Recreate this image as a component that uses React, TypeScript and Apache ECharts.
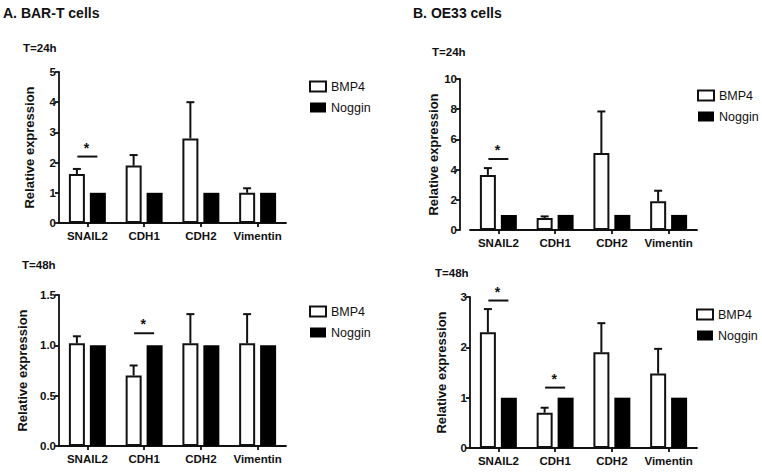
import React, { useEffect, useRef } from "react";
import * as echarts from "echarts";

const categories = ["SNAIL2", "CDH1", "CDH2", "Vimentin"];

// A. BAR-T cells, T=24h
const a24Bmp4 = [1.62, 1.9, 2.8, 1.0];
const a24Bmp4Err = [0.17, 0.35, 1.2, 0.15];
const a24Noggin = [1, 1, 1, 1];
const a24Ticks = { min: 0, max: 5, interval: 1 };
const a24Sig = [[0, 2.2]];

// A. BAR-T cells, T=48h
const a48Bmp4 = [1.02, 0.7, 1.02, 1.02];
const a48Bmp4Err = [0.07, 0.1, 0.29, 0.29];
const a48Noggin = [1, 1, 1, 1];
const a48Ticks = { min: 0, max: 1.5, interval: 0.5 };
const a48Sig = [[1, 1.12]];

// B. OE33 cells, T=24h
const b24Bmp4 = [3.65, 0.8, 5.1, 1.9];
const b24Bmp4Err = [0.45, 0.1, 2.75, 0.7];
const b24Noggin = [1, 1, 1, 1];
const b24Ticks = { min: 0, max: 10, interval: 2 };
const b24Sig = [[0, 4.7]];

// B. OE33 cells, T=48h
const b48Bmp4 = [2.3, 0.7, 1.9, 1.48];
const b48Bmp4Err = [0.46, 0.1, 0.58, 0.49];
const b48Noggin = [1, 1, 1, 1];
const b48Ticks = { min: 0, max: 3, interval: 1 };
const b48Sig = [[0, 2.93], [1, 1.2]];

const FONT = "'Liberation Sans', Arial, Helvetica, sans-serif";
const INK = "#111";
const BAR_W = 16;
const BAR_OFF = 10.5;

export default function App() {
  const ref = useRef<HTMLDivElement>(null);

  useEffect(() => {
    if (!ref.current) return;
    const chart = echarts.init(ref.current, null, { renderer: "svg" });

    const panels = [
      { bmp: a24Bmp4, err: a24Bmp4Err, nog: a24Noggin, ticks: a24Ticks, sig: a24Sig, fmt: (v: number) => String(v),
        grid: { left: 59, top: 72, width: 227, height: 151 }, yOffset: 0, nameGap: 23, legend: { left: 304, top: 75 } },
      { bmp: a48Bmp4, err: a48Bmp4Err, nog: a48Noggin, ticks: a48Ticks, sig: a48Sig, fmt: (v: number) => v.toFixed(1),
        grid: { left: 59, top: 295, width: 227, height: 151 }, yOffset: 0, nameGap: 30, legend: { left: 304, top: 300 } },
      { bmp: b24Bmp4, err: b24Bmp4Err, nog: b24Noggin, ticks: b24Ticks, sig: b24Sig, fmt: (v: number) => String(v),
        grid: { left: 470, top: 79, width: 227, height: 151 }, yOffset: 10, nameGap: 18, legend: { left: 692, top: 84 } },
      { bmp: b48Bmp4, err: b48Bmp4Err, nog: b48Noggin, ticks: b48Ticks, sig: b48Sig, fmt: (v: number) => String(v),
        grid: { left: 470, top: 297, width: 227, height: 151 }, yOffset: 0, nameGap: 22, legend: { left: 691, top: 303 } },
    ];

    const axisLine = { show: true, lineStyle: { color: INK, width: 1.8 } };
    const axisTick = { show: true, length: 4, lineStyle: { color: INK, width: 1.8 } };

    const grids: any[] = [];
    const xAxes: any[] = [];
    const yAxes: any[] = [];
    const series: any[] = [];
    const legends: any[] = [];

    panels.forEach((p, i) => {
      grids.push({ ...p.grid, containLabel: false });
      xAxes.push({
        type: "category",
        gridIndex: i,
        data: categories,
        axisLine,
        axisTick: { ...axisTick, alignWithLabel: true },
        axisLabel: { color: INK, fontFamily: FONT, fontWeight: "bold", fontSize: 11.5, margin: 7, interval: 0 },
        splitLine: { show: false },
      });
      yAxes.push({
        type: "value",
        gridIndex: i,
        min: p.ticks.min,
        max: p.ticks.max,
        interval: p.ticks.interval,
        offset: p.yOffset,
        name: "Relative expression",
        nameLocation: "middle",
        nameGap: p.nameGap,
        nameTextStyle: { color: INK, fontFamily: FONT, fontWeight: "bold", fontSize: 13 },
        axisLine,
        axisTick,
        axisLabel: { color: INK, fontFamily: FONT, fontWeight: "bold", fontSize: 11.5, margin: 3, formatter: p.fmt },
        splitLine: { show: false },
      });
      series.push({
        name: "BMP4",
        type: "bar",
        xAxisIndex: i,
        yAxisIndex: i,
        data: p.bmp,
        barWidth: BAR_W,
        barGap: "31%",
        itemStyle: { color: "#fff", borderColor: INK, borderWidth: 2 },
        z: 2,
      });
      series.push({
        name: "Noggin",
        type: "bar",
        xAxisIndex: i,
        yAxisIndex: i,
        data: p.nog,
        barWidth: BAR_W,
        barGap: "31%",
        itemStyle: { color: "#000", borderColor: "#000", borderWidth: 0 },
        z: 2,
      });
      series.push({
        name: "err" + i,
        type: "custom",
        xAxisIndex: i,
        yAxisIndex: i,
        z: 3,
        silent: true,
        data: p.bmp.map((v, k) => [k, v, v + p.err[k]]),
        renderItem: (params: any, api: any) => {
          const idx = api.value(0);
          const base = api.coord([idx, api.value(1)]);
          const top = api.coord([idx, api.value(2)]);
          const x = base[0] - BAR_OFF;
          return {
            type: "group",
            children: [
              { type: "line", shape: { x1: x, y1: base[1], x2: x, y2: top[1] }, style: { stroke: INK, lineWidth: 2 } },
              { type: "line", shape: { x1: x - 4, y1: top[1], x2: x + 4, y2: top[1] }, style: { stroke: INK, lineWidth: 2 } },
            ],
          };
        },
      });
      series.push({
        name: "sig" + i,
        type: "custom",
        xAxisIndex: i,
        yAxisIndex: i,
        z: 3,
        silent: true,
        data: p.sig,
        renderItem: (params: any, api: any) => {
          const c = api.coord([api.value(0), api.value(1)]);
          return {
            type: "group",
            children: [
              { type: "line", shape: { x1: c[0] - 10, y1: c[1], x2: c[0] + 10, y2: c[1] }, style: { stroke: INK, lineWidth: 2 } },
              {
                type: "text",
                x: c[0] - 1,
                y: c[1] - 2,
                style: { text: "*", fill: INK, font: `bold 14px ${FONT}`, align: "center", verticalAlign: "bottom" },
              },
            ],
          };
        },
      });
      legends.push({
        data: ["BMP4", "Noggin"],
        orient: "vertical",
        left: p.legend.left,
        top: p.legend.top,
        itemWidth: 16,
        itemHeight: 10,
        itemGap: 8,
        icon: "rect",
        selectedMode: false,
        textStyle: { color: INK, fontFamily: FONT, fontSize: 12.5 },
      });
    });

    const titleText = (text: string, x: number, y: number, size: number) => ({
      type: "text",
      left: x,
      top: y,
      style: { text, fill: INK, font: `bold ${size}px ${FONT}` },
    });

    chart.setOption({
      animation: false,
      backgroundColor: "#fff",
      grid: grids,
      xAxis: xAxes,
      yAxis: yAxes,
      legend: legends,
      series,
      graphic: [
        titleText("A. BAR-T cells", 3, 6, 14),
        titleText("B. OE33 cells", 413, 6, 14),
        titleText("T=24h", 23, 42, 11.5),
        titleText("T=48h", 22, 259, 11.5),
        titleText("T=24h", 432, 46, 11.5),
        titleText("T=48h", 435, 267, 11.5),
      ],
    });

    return () => chart.dispose();
  }, []);

  return <div ref={ref} style={{ position: "fixed", left: 0, top: 0, width: 762, height: 473 }} />;
}
